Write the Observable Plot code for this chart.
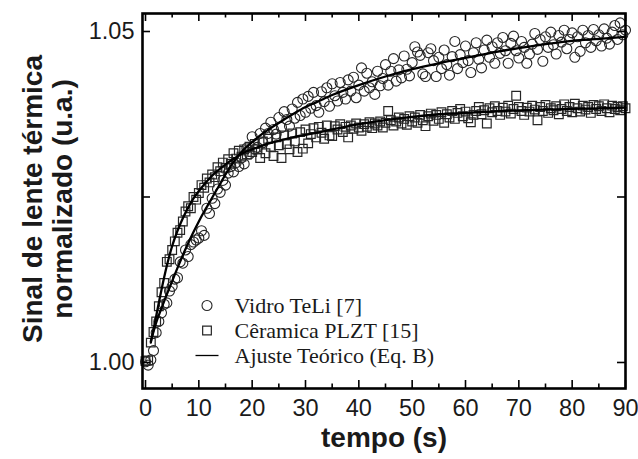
<!DOCTYPE html>
<html><head><meta charset="utf-8">
<script src="https://cdn.jsdelivr.net/npm/d3@7"></script>
<script src="https://cdn.jsdelivr.net/npm/@observablehq/plot@0.6"></script>
<style>html,body{margin:0;padding:0;background:#fff;} #chart svg{display:block}</style>
</head><body><div id="chart"></div>
<script>
// time samples (s)
const tempo = [
0,0.5,1,1.5,2,2.5,3,3.5,4,4.5,
5,5.5,6,6.5,7,7.5,8,8.5,9,9.5,
10,10.5,11,11.5,12,12.5,13,13.5,14,14.5,
15,15.5,16,16.5,17,17.5,18,18.5,19,19.5,
20,20.5,21,21.5,22,22.5,23,23.5,24,24.5,
25,25.5,26,26.5,27,27.5,28,28.5,29,29.5,
30,30.5,31,31.5,32,32.5,33,33.5,34,34.5,
35,35.5,36,36.5,37,37.5,38,38.5,39,39.5,
40,40.5,41,41.5,42,42.5,43,43.5,44,44.5,
45,45.5,46,46.5,47,47.5,48,48.5,49,49.5,
50,50.5,51,51.5,52,52.5,53,53.5,54,54.5,
55,55.5,56,56.5,57,57.5,58,58.5,59,59.5,
60,60.5,61,61.5,62,62.5,63,63.5,64,64.5,
65,65.5,66,66.5,67,67.5,68,68.5,69,69.5,
70,70.5,71,71.5,72,72.5,73,73.5,74,74.5,
75,75.5,76,76.5,77,77.5,78,78.5,79,79.5,
80,80.5,81,81.5,82,82.5,83,83.5,84,84.5,
85,85.5,86,86.5,87,87.5,88,88.5,89,89.5,
90];
// Vidro TeLi [7] (circles)
const vidroTeLi = [
1.0001,0.9996,1.0004,1.0018,1.0045,1.0062,1.0075,1.0088,1.0090,1.0108,
1.0115,1.0126,1.0128,1.0152,1.0150,1.0170,1.0160,1.0178,1.0182,1.0185,
1.0188,1.0199,1.0192,1.0233,1.0225,1.0248,1.0240,1.0262,1.0257,1.0275,
1.0268,1.0286,1.0296,1.0288,1.0302,1.0296,1.0309,1.0300,1.0324,1.0315,
1.0341,1.0322,1.0325,1.0346,1.0332,1.0354,1.0346,1.0363,1.0352,1.0345,
1.0370,1.0355,1.0379,1.0367,1.0357,1.0383,1.0369,1.0393,1.0373,1.0398,
1.0378,1.0402,1.0384,1.0408,1.0388,1.0378,1.0409,1.0394,1.0415,1.0387,
1.0421,1.0403,1.0395,1.0423,1.0408,1.0398,1.0427,1.0410,1.0431,1.0400,
1.0419,1.0445,1.0410,1.0437,1.0415,1.0424,1.0405,1.0440,1.0418,1.0429,
1.0450,1.0419,1.0440,1.0459,1.0425,1.0442,1.0430,1.0463,1.0443,1.0433,
1.0453,1.0477,1.0469,1.0464,1.0436,1.0432,1.0468,1.0474,1.0456,1.0432,
1.0461,1.0444,1.0472,1.0450,1.0434,1.0462,1.0485,1.0444,1.0465,1.0453,
1.0478,1.0456,1.0438,1.0468,1.0483,1.0458,1.0445,1.0472,1.0487,1.0461,
1.0477,1.0452,1.0483,1.0467,1.0491,1.0471,1.0452,1.0482,1.0493,1.0471,
1.0460,1.0485,1.0476,1.0452,1.0466,1.0481,1.0497,1.0473,1.0488,1.0455,
1.0492,1.0476,1.0499,1.0480,1.0466,1.0494,1.0484,1.0502,1.0474,1.0488,
1.0498,1.0461,1.0492,1.0470,1.0502,1.0483,1.0494,1.0476,1.0503,1.0486,
1.0495,1.0478,1.0504,1.0490,1.0481,1.0499,1.0509,1.0488,1.0513,1.0495,
1.0502];
// Cêramica PLZT [15] (squares)
const ceramicaPLZT = [
1.0002,1.0003,1.0030,1.0046,1.0062,1.0085,1.0106,1.0120,1.0152,1.0156,
1.0170,1.0183,1.0196,1.0200,1.0213,1.0228,1.0236,1.0233,1.0250,1.0246,
1.0256,1.0268,1.0264,1.0278,1.0272,1.0284,1.0280,1.0295,1.0289,1.0302,
1.0294,1.0307,1.0300,1.0316,1.0308,1.0320,1.0311,1.0322,1.0314,1.0326,
1.0318,1.0330,1.0322,1.0309,1.0334,1.0316,1.0338,1.0326,1.0312,1.0340,
1.0328,1.0309,1.0343,1.0330,1.0322,1.0346,1.0334,1.0318,1.0348,1.0323,
1.0352,1.0331,1.0345,1.0354,1.0340,1.0356,1.0347,1.0338,1.0358,1.0343,
1.0342,1.0357,1.0352,1.0360,1.0348,1.0356,1.0340,1.0358,1.0353,1.0361,
1.0355,1.0350,1.0360,1.0356,1.0363,1.0354,1.0361,1.0358,1.0364,1.0355,
1.0362,1.0380,1.0366,1.0358,1.0364,1.0370,1.0361,1.0368,1.0359,1.0372,
1.0364,1.0370,1.0362,1.0374,1.0366,1.0357,1.0372,1.0376,1.0365,1.0374,
1.0368,1.0378,1.0362,1.0375,1.0370,1.0380,1.0368,1.0377,1.0383,1.0372,
1.0379,1.0369,1.0363,1.0374,1.0380,1.0386,1.0375,1.0381,1.0361,1.0384,
1.0378,1.0387,1.0380,1.0374,1.0385,1.0379,1.0388,1.0376,1.0383,1.0403,
1.0386,1.0380,1.0374,1.0385,1.0379,1.0388,1.0382,1.0366,1.0386,1.0380,
1.0389,1.0377,1.0384,1.0381,1.0387,1.0375,1.0383,1.0390,1.0380,1.0386,
1.0378,1.0391,1.0384,1.0379,1.0388,1.0382,1.0386,1.0377,1.0389,1.0383,
1.0387,1.0380,1.0390,1.0384,1.0378,1.0388,1.0383,1.0386,1.0381,1.0387,
1.0384];
// Ajuste Teórico (Eq. B) — fitted curves
const ajusteT = [1,2,3,4,5,6,7,8,9,10,11,12,13,14,15,16,17,18,19,20,22,24,26,28,30,32,35,40,45,50,55,60,65,70,75,80,85,90];
const ajusteVidro = [1.0032,1.0060,1.0082,1.0103,1.0123,1.0143,1.0162,1.0180,1.0197,1.0213,1.0228,1.0242,1.0256,1.0270,1.0284,1.0297,1.0308,1.0318,1.0326,1.0333,1.0346,1.0357,1.0367,1.0377,1.0386,1.0393,1.0404,1.0419,1.0432,1.0443,1.0452,1.0460,1.0468,1.0475,1.0481,1.0486,1.0489,1.0492];
const ajusteCeramica = [1.0030,1.0070,1.0110,1.0146,1.0176,1.0199,1.0218,1.0234,1.0248,1.0259,1.0269,1.0278,1.0286,1.0293,1.0299,1.0305,1.0310,1.0315,1.0319,1.0322,1.0328,1.0333,1.0337,1.0341,1.0344,1.0347,1.0352,1.0360,1.0366,1.0371,1.0375,1.0377,1.0379,1.0381,1.0382,1.0383,1.0384,1.0385];

const xTicksMajor = [0,10,20,30,40,50,60,70,80,90];
const xTicksMinor = [5,15,25,35,45,55,65,75,85];
const yTicksMajor = [1.000,1.025,1.050];
const yTickLabels = [1.00,1.05];
const legendLabels = ["Vidro TeLi [7]","Cêramica PLZT [15]","Ajuste Teórico (Eq. B)"];

const W=638,H=459,mL=142,mR=13,mT=13,mB=71;
const xDom=[-0.5625,90], yDom=[0.99607,1.05272];
const dX=(xDom[1]-xDom[0])/(W-mL-mR);   // data units per pixel
const dY=(yDom[1]-yDom[0])/(H-mT-mB);
const px2x = p => xDom[0]+(p-mL)*dX;
const px2y = p => yDom[1]-(p-mT)*dY;

const n = Math.min(tempo.length, vidroTeLi.length, ceramicaPLZT.length);
const vidro = d3.range(n).map(i=>({t:tempo[i], v:vidroTeLi[i]}));
const ceram = d3.range(n).map(i=>({t:tempo[i], v:ceramicaPLZT[i]}));
const fitV = ajusteT.map((t,i)=>({t, v:ajusteVidro[i]}));
const fitC = ajusteT.map((t,i)=>({t, v:ajusteCeramica[i]}));

const hline = {draw(ctx,size){const r=Math.sqrt(size/Math.PI);ctx.moveTo(-r,0);ctx.lineTo(r,0);}};
const legX = px2x(206.5), legTX = px2x(234);
const legY = [px2y(305), px2y(330), px2y(355)];
const legend = legendLabels.map((label,i)=>({label, y:legY[i], k:i}));

const txt = "#1a1a1a";
const mk = "#262626";
const chart = Plot.plot({
  width:W, height:H, marginLeft:mL, marginRight:mR, marginTop:mT, marginBottom:mB,
  style:{fontFamily:"'Liberation Sans', Arial, sans-serif", background:"#fff", overflow:"visible"},
  x:{domain:xDom, axis:null},
  y:{domain:yDom, axis:null},
  marks:[
    Plot.dot(vidro,{x:"t",y:"v",r:5,fill:"none",stroke:mk,strokeWidth:1.1}),
    Plot.dot(ceram,{x:"t",y:"v",symbol:"square",r:4.9,fill:"none",stroke:mk,strokeWidth:1.2}),
    Plot.line(fitV,{x:"t",y:"v",curve:"monotone-x",stroke:"#000",strokeWidth:2.3}),
    Plot.line(fitC,{x:"t",y:"v",curve:"monotone-x",stroke:"#000",strokeWidth:2.3}),
    // inward ticks
    Plot.ruleX(xTicksMajor,{x:d=>d,y1:yDom[0],y2:yDom[0]+8*dY,stroke:"#000",strokeWidth:1.6}),
    Plot.ruleX(xTicksMinor,{x:d=>d,y1:yDom[0],y2:yDom[0]+4.5*dY,stroke:"#000",strokeWidth:1.6}),
    Plot.ruleX(xTicksMajor,{x:d=>d,y1:yDom[1],y2:yDom[1]-8*dY,stroke:"#000",strokeWidth:1.6}),
    Plot.ruleX(xTicksMinor,{x:d=>d,y1:yDom[1],y2:yDom[1]-4.5*dY,stroke:"#000",strokeWidth:1.6}),
    Plot.ruleY(yTicksMajor,{y:d=>d,x1:xDom[0],x2:xDom[0]+8*dX,stroke:"#000",strokeWidth:1.6}),
    Plot.ruleY(yTicksMajor,{y:d=>d,x1:xDom[1],x2:xDom[1]-8*dX,stroke:"#000",strokeWidth:1.6}),
    Plot.frame({stroke:"#000",strokeWidth:2.6}),
    // tick labels
    Plot.axisX(xTicksMajor,{anchor:"bottom",label:null,tickSize:0,tickPadding:11,fontSize:23.5,fill:txt,tickFormat:d=>String(d)}),
    Plot.axisY(yTickLabels,{anchor:"left",label:null,tickSize:0,tickPadding:8,fontSize:23.5,fill:txt,tickFormat:d=>d.toFixed(2)}),
    // axis titles
    Plot.text(["tempo (s)"],{frameAnchor:"bottom",dy:50,text:d=>d,fontSize:28,fontWeight:"bold",fill:txt,textAnchor:"middle",lineAnchor:"middle"}),
    Plot.text(["Sinal de lente térmica"],{frameAnchor:"left",dx:-109,dy:-2,text:d=>d,rotate:-90,fontSize:28,fontWeight:"bold",fill:txt,textAnchor:"middle",lineAnchor:"middle"}),
    Plot.text(["normalizado (u.a.)"],{frameAnchor:"left",dx:-79,dy:-2,text:d=>d,rotate:-90,fontSize:28,fontWeight:"bold",fill:txt,textAnchor:"middle",lineAnchor:"middle"}),
    // legend
    Plot.dot(legend.filter(d=>d.k===0),{x:()=>legX,y:"y",r:5,fill:"none",stroke:mk,strokeWidth:1.1}),
    Plot.dot(legend.filter(d=>d.k===1),{x:()=>legX,y:"y",symbol:"square",r:4.9,fill:"none",stroke:mk,strokeWidth:1.2}),
    Plot.dot(legend.filter(d=>d.k===2),{x:()=>legX,y:"y",symbol:hline,r:11.5,fill:"none",stroke:"#000",strokeWidth:1.3}),
    Plot.text(legend,{x:()=>legTX,y:"y",text:"label",textAnchor:"start",lineAnchor:"middle",fontSize:22,fontFamily:"'Liberation Serif','Times New Roman',serif",fill:txt})
  ]
});
document.getElementById("chart").appendChild(chart);
</script>
</body></html>
